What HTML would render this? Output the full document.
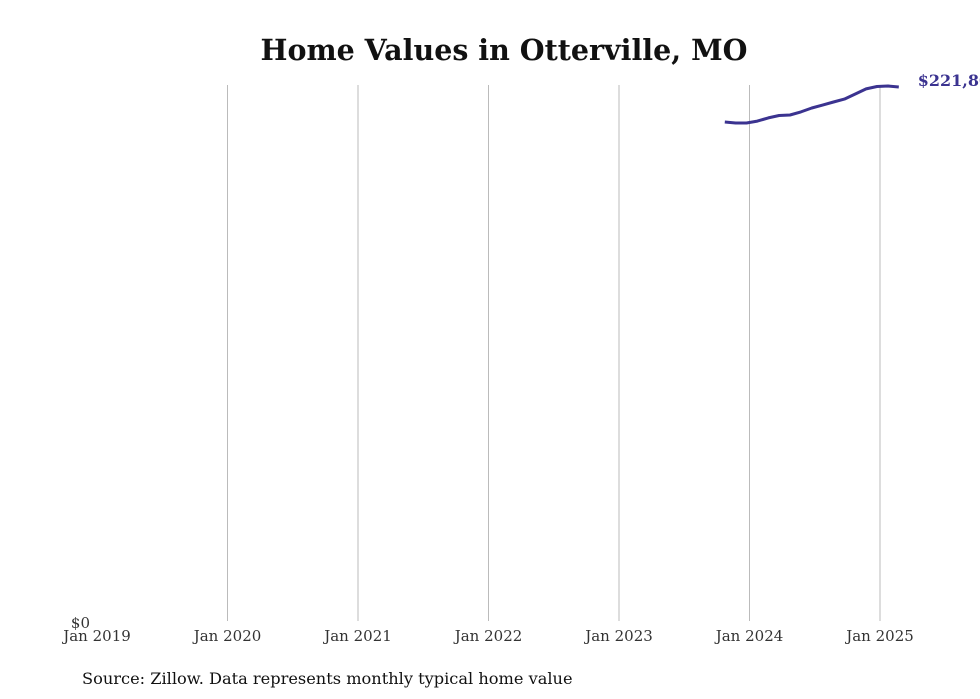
<!DOCTYPE html>
<html><head><meta charset="utf-8"><style>
body{margin:0;background:#fff;}
svg{display:block;font-family:"DejaVu Serif","Liberation Serif",serif;}
</style></head><body>
<svg width="980" height="699" viewBox="0 0 980 699">
<text x="504" y="60" text-anchor="middle" font-size="28.5" font-weight="bold" fill="#111">Home Values in Otterville, MO</text>
<g id="grid"></g>
<g id="xticks"></g>
<text x="90" y="628" text-anchor="end" font-size="15" fill="#333">$0</text>
<path id="line" fill="none" stroke="#3b3390" stroke-width="3" stroke-linejoin="round"></path>
<text id="endlabel" font-size="16" font-weight="bold" fill="#3b3390"></text>
<text x="82" y="684" font-size="16.2" fill="#111">Source: Zillow. Data represents monthly typical home value</text>
</svg>
<script>
const tickLabels=["Jan 2019","Jan 2020","Jan 2021","Jan 2022","Jan 2023","Jan 2024","Jan 2025"];
const startMonth=58; // months since Jan 2019 (Nov 2023)
const values=[207300,206900,206900,207700,209000,210000,210200,211500,213100,214300,215600,216800,218900,221000,222000,222200,221800];
const X0=97,PER_YEAR=130.5,Y0=623,PER_DOLLAR=1/413.8;
const xs=m=>X0+m*PER_YEAR/12;
const ys=v=>Y0-v*PER_DOLLAR;
const ns="http://www.w3.org/2000/svg";
const grid=document.getElementById('grid'),xt=document.getElementById('xticks');
tickLabels.forEach((t,i)=>{
  const x=xs(i*12);
  if(i>0){const l=document.createElementNS(ns,'line');
  
  
  l.setAttribute('x1',x);l.setAttribute('x2',x);l.setAttribute('y1',85);l.setAttribute('y2',621);
  l.setAttribute('stroke','#bbb');l.setAttribute('stroke-width','1');grid.appendChild(l);}
  const tx=document.createElementNS(ns,'text');
  
  
  tx.setAttribute('x',x);tx.setAttribute('y',641);tx.setAttribute('text-anchor','middle');
  tx.setAttribute('font-size','15');tx.setAttribute('fill','#333');tx.textContent=t;xt.appendChild(tx);
});
let d='';values.forEach((v,i)=>{d+=(i?'L':'M')+(xs(startMonth+i)-3).toFixed(1)+','+ys(v).toFixed(1);});
document.getElementById('line').setAttribute('d',d);
const last=values[values.length-1],el=document.getElementById('endlabel');
el.setAttribute('x',xs(startMonth+values.length-1)+16);el.setAttribute('y',ys(last)-1);
el.textContent='$'+last.toLocaleString('en-US');
</script>
</body></html>
